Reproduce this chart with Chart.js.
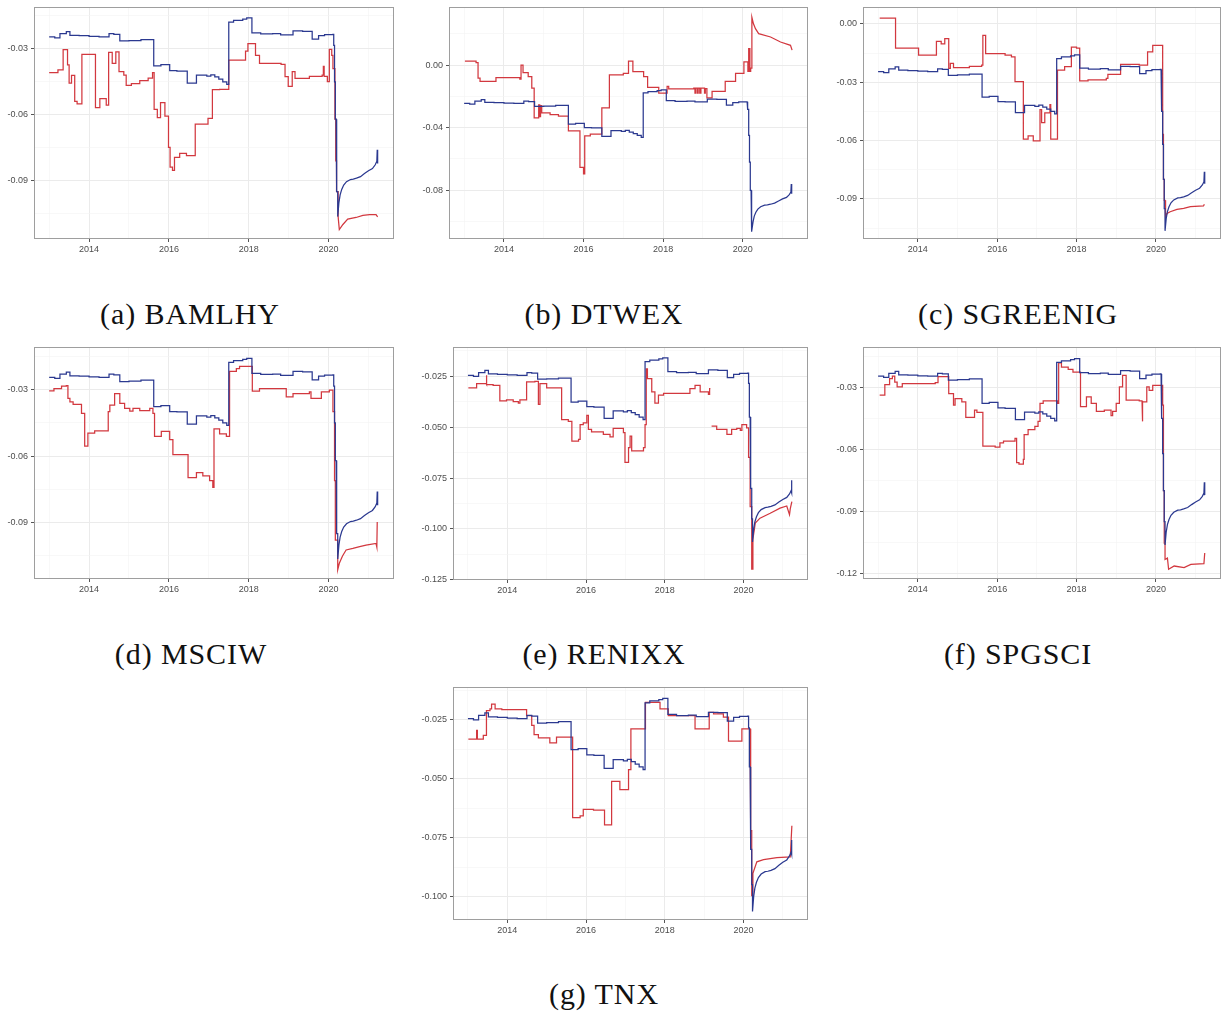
<!DOCTYPE html>
<html>
<head>
<meta charset="utf-8">
<script src="https://cdn.jsdelivr.net/npm/chart.js@4.4.1/dist/chart.umd.min.js"></script>
<style>
  html, body { margin: 0; padding: 0; background: #fff; }
  body { position: relative; width: 1223px; height: 1013px; overflow: hidden; }
  canvas { position: absolute; }
  .cap {
    position: absolute; width: 400px; text-align: center;
    font-family: "Liberation Serif", "Times New Roman", serif;
    font-size: 30px; line-height: 30px; letter-spacing: 0.9px; color: #111;
  }
</style>
</head>
<body>
<script>
// Shared series (same in every panel), as [year, value] steps
const common = [
  [2013.00,-0.0245],[2013.14,-0.0250],[2013.27,-0.0231],[2013.43,-0.0221],[2013.52,-0.0238],
  [2013.75,-0.0240],[2014.00,-0.0243],[2014.25,-0.0245],[2014.50,-0.0231],[2014.62,-0.0234],
  [2014.77,-0.0264],[2015.00,-0.0262],[2015.30,-0.0258],[2015.62,-0.0377],[2015.80,-0.0372],
  [2016.02,-0.0399],[2016.20,-0.0401],[2016.46,-0.0456],[2016.69,-0.0419],[2016.95,-0.0424],
  [2017.05,-0.0418],[2017.15,-0.0428],[2017.25,-0.0438],[2017.35,-0.0450],[2017.45,-0.0462],
  [2017.50,-0.0178],[2017.62,-0.0170],[2017.85,-0.0164],[2017.95,-0.0159],[2018.08,-0.0227],
  [2018.30,-0.0232],[2018.60,-0.0230],[2018.80,-0.0236],[2019.11,-0.0218],[2019.35,-0.0220],
  [2019.59,-0.0256],[2019.75,-0.0240],[2019.90,-0.0235],[2020.11,-0.0234],[2020.13,-0.0284],
  [2020.15,-0.0450],[2020.17,-0.0620],[2020.19,-0.0800],[2020.21,-0.0950],[2020.23,-0.1064],
  [2020.26,-0.1000],[2020.29,-0.0965],[2020.33,-0.0940],[2020.38,-0.0920],[2020.45,-0.0905],
  [2020.55,-0.0895],[2020.62,-0.0893],[2020.70,-0.0889],[2020.80,-0.0882],[2020.90,-0.0868],
  [2021.00,-0.0855],[2021.10,-0.0845],[2021.17,-0.0828],[2021.21,-0.0812],[2021.22,-0.0760],
  [2021.23,-0.0822]
];

// Per-index series
const bamlhy = [
  [2013.00,-0.0408],[2013.22,-0.0396],[2013.35,-0.0303],[2013.46,-0.0373],[2013.50,-0.0456],
  [2013.56,-0.0421],[2013.64,-0.0539],[2013.70,-0.0551],[2013.82,-0.0325],[2014.16,-0.0568],
  [2014.27,-0.0527],[2014.43,-0.0556],[2014.49,-0.0316],[2014.58,-0.0366],[2014.67,-0.0314],
  [2014.75,-0.0404],[2014.87,-0.0420],[2014.93,-0.0466],[2015.06,-0.0458],[2015.27,-0.0445],
  [2015.48,-0.0433],[2015.59,-0.0408],[2015.63,-0.0576],[2015.71,-0.0613],[2015.79,-0.0545],
  [2015.90,-0.0606],[2015.99,-0.0749],[2016.03,-0.0839],[2016.09,-0.0853],[2016.14,-0.0794],
  [2016.27,-0.0776],[2016.44,-0.0786],[2016.66,-0.0643],[2016.98,-0.0616],[2017.09,-0.0486],
  [2017.27,-0.0484],[2017.50,-0.0351],[2017.92,-0.0310],[2017.98,-0.0276],[2018.17,-0.0329],
  [2018.27,-0.0366],[2018.81,-0.0370],[2018.91,-0.0426],[2018.99,-0.0471],[2019.09,-0.0404],
  [2019.16,-0.0434],[2019.52,-0.0425],[2019.84,-0.0420],[2019.87,-0.0380],[2019.89,-0.0425],
  [2019.97,-0.0449],[2020.02,-0.0302],[2020.08,-0.0330],[2020.11,-0.0390],[2020.16,-0.0620],
  [2020.18,-0.0810],[2020.20,-0.0950],[2020.24,-0.1064],[2020.27,-0.1123],[2020.36,-0.1100],
  [2020.48,-0.1075],[2020.69,-0.1068],[2020.86,-0.1058],[2021.03,-0.1055],[2021.19,-0.1055],
  [2021.23,-0.1065]
];

const dtwex = [
  [2013.02,0.0025],[2013.30,0.0015],[2013.35,-0.0084],[2013.40,-0.0105],[2013.80,-0.0080],
  [2014.40,-0.0090],[2014.43,0.0000],[2014.48,-0.0048],[2014.61,-0.0074],[2014.70,-0.0147],
  [2014.76,-0.0337],[2014.86,-0.0320],[2014.88,-0.0255],[2014.90,-0.0330],[2014.92,-0.0260],
  [2014.95,-0.0305],[2015.16,-0.0316],[2015.37,-0.0326],[2015.62,-0.0421],[2015.91,-0.0653],
  [2016.00,-0.0695],[2016.03,-0.0453],[2016.17,-0.0442],[2016.46,-0.0274],[2016.65,-0.0063],
  [2017.00,-0.0053],[2017.13,0.0025],[2017.24,-0.0042],[2017.51,-0.0074],[2017.61,-0.0143],
  [2017.89,-0.0179],[2018.10,-0.0137],[2018.14,-0.0152],[2018.77,-0.0147],[2018.80,-0.0180],
  [2018.82,-0.0147],[2018.86,-0.0180],[2018.88,-0.0147],[2018.92,-0.0180],[2018.95,-0.0147],
  [2019.04,-0.0180],[2019.06,-0.0150],[2019.10,-0.0210],[2019.23,-0.0168],[2019.56,-0.0105],
  [2019.82,-0.0053],[2020.03,0.0020],[2020.13,-0.0040],[2020.15,0.0105],[2020.18,-0.0040],
  [2020.20,-0.0020],[2020.23,0.0305],[2020.27,0.0263],[2020.32,0.0232],[2020.40,0.0200],
  [2020.70,0.0179],[2020.95,0.0147],[2021.20,0.0126],[2021.24,0.0095]
];

const sgreenig = [
  [2013.04,0.0030],[2013.44,-0.0124],[2014.02,-0.0161],[2014.47,-0.0090],[2014.59,-0.0102],
  [2014.68,-0.0076],[2014.78,-0.0229],[2014.82,-0.0203],[2014.90,-0.0225],[2015.30,-0.0218],
  [2015.61,-0.0212],[2015.64,-0.0059],[2015.71,-0.0153],[2016.20,-0.0161],[2016.36,-0.0170],
  [2016.45,-0.0297],[2016.66,-0.0593],[2016.78,-0.0576],[2016.91,-0.0602],[2017.08,-0.0441],
  [2017.12,-0.0508],[2017.20,-0.0458],[2017.33,-0.0415],[2017.35,-0.0593],[2017.52,-0.0237],
  [2017.70,-0.0220],[2017.87,-0.0119],[2018.00,-0.0125],[2018.08,-0.0293],[2018.29,-0.0288],
  [2018.75,-0.0280],[2018.79,-0.0259],[2019.11,-0.0208],[2019.58,-0.0212],[2019.79,-0.0144],
  [2019.92,-0.0110],[2020.17,-0.0568],[2020.19,-0.0800],[2020.21,-0.0907],[2020.23,-0.0958],
  [2020.25,-0.0992],[2020.28,-0.0975],[2020.36,-0.0966],[2020.53,-0.0954],[2020.70,-0.0949],
  [2020.87,-0.0940],[2021.20,-0.0936],[2021.22,-0.0927]
];

const msciw = [
  [2013.00,-0.0306],[2013.12,-0.0296],[2013.31,-0.0284],[2013.43,-0.0282],[2013.47,-0.0340],
  [2013.52,-0.0355],[2013.60,-0.0367],[2013.81,-0.0407],[2013.89,-0.0555],[2013.97,-0.0496],
  [2014.14,-0.0486],[2014.48,-0.0400],[2014.52,-0.0370],[2014.64,-0.0318],[2014.77,-0.0362],
  [2014.89,-0.0385],[2015.02,-0.0397],[2015.10,-0.0385],[2015.27,-0.0395],[2015.52,-0.0385],
  [2015.60,-0.0407],[2015.64,-0.0511],[2015.81,-0.0489],[2016.02,-0.0526],[2016.10,-0.0593],
  [2016.48,-0.0697],[2016.69,-0.0674],[2016.85,-0.0689],[2017.02,-0.0711],[2017.10,-0.0741],
  [2017.13,-0.0477],[2017.27,-0.0500],[2017.44,-0.0511],[2017.52,-0.0218],[2017.69,-0.0206],
  [2017.77,-0.0195],[2018.09,-0.0307],[2018.27,-0.0296],[2018.94,-0.0333],[2019.11,-0.0318],
  [2019.52,-0.0310],[2019.56,-0.0340],[2019.82,-0.0310],[2020.02,-0.0303],[2020.11,-0.0400],
  [2020.15,-0.0711],[2020.17,-0.0979],[2020.23,-0.1112],[2020.27,-0.1083],[2020.35,-0.1050],
  [2020.44,-0.1023],[2020.61,-0.1016],[2020.78,-0.1008],[2020.94,-0.1001],[2021.19,-0.0994],
  [2021.21,-0.1010],[2021.22,-0.0897]
];

const renixx = [
  [2013.01,-0.0306],[2013.22,-0.0285],[2013.46,-0.0245],[2013.48,-0.0290],[2013.64,-0.0294],
  [2013.81,-0.0371],[2013.98,-0.0366],[2014.15,-0.0374],[2014.28,-0.0382],[2014.32,-0.0366],
  [2014.49,-0.0277],[2014.70,-0.0274],[2014.79,-0.0387],[2014.83,-0.0285],[2015.00,-0.0306],
  [2015.38,-0.0463],[2015.55,-0.0471],[2015.64,-0.0568],[2015.81,-0.0560],[2015.85,-0.0487],
  [2015.93,-0.0479],[2016.02,-0.0442],[2016.06,-0.0511],[2016.14,-0.0523],[2016.44,-0.0535],
  [2016.61,-0.0547],[2016.69,-0.0506],[2016.95,-0.0527],[2016.99,-0.0673],[2017.08,-0.0600],
  [2017.12,-0.0544],[2017.16,-0.0616],[2017.46,-0.0600],[2017.50,-0.0487],[2017.53,-0.0213],
  [2017.56,-0.0261],[2017.67,-0.0326],[2017.75,-0.0382],[2017.84,-0.0342],[2017.97,-0.0334],
  [2018.64,-0.0310],[2018.77,-0.0294],[2018.90,-0.0326],[2019.11,-0.0339],[2019.14,-0.0310],
  [2019.16,-0.0310],[2019.17,null],[2019.19,-0.0495],[2019.32,-0.0511],[2019.58,-0.0535],
  [2019.70,-0.0511],[2019.83,-0.0506],[2019.92,-0.0516],[2019.96,-0.0487],[2020.08,-0.0503],
  [2020.13,-0.0648],[2020.17,-0.0890],[2020.21,-0.1197],[2020.24,-0.1050],[2020.30,-0.0971],
  [2020.42,-0.0947],[2020.68,-0.0923],[2020.93,-0.0898],[2021.10,-0.0887],[2021.17,-0.0930],
  [2021.19,-0.0900],[2021.23,-0.0866]
];

const spgsci = [
  [2013.04,-0.0337],[2013.17,-0.0286],[2013.29,-0.0257],[2013.36,-0.0244],[2013.42,-0.0273],
  [2013.48,-0.0297],[2013.61,-0.0281],[2014.44,-0.0276],[2014.51,-0.0247],[2014.78,-0.0329],
  [2014.90,-0.0385],[2014.94,-0.0353],[2015.11,-0.0369],[2015.21,-0.0445],[2015.43,-0.0409],
  [2015.49,-0.0420],[2015.64,-0.0584],[2015.95,-0.0589],[2016.07,-0.0568],[2016.16,-0.0560],
  [2016.45,-0.0547],[2016.49,-0.0664],[2016.55,-0.0672],[2016.66,-0.0648],[2016.68,-0.0528],
  [2016.78,-0.0504],[2016.95,-0.0488],[2017.03,-0.0464],[2017.08,-0.0377],[2017.16,-0.0365],
  [2017.52,-0.0377],[2017.55,-0.0180],[2017.62,-0.0201],[2017.79,-0.0212],[2017.91,-0.0225],
  [2018.10,-0.0393],[2018.25,-0.0345],[2018.37,-0.0377],[2018.50,-0.0416],[2018.70,-0.0409],
  [2018.87,-0.0436],[2018.91,-0.0416],[2019.00,-0.0377],[2019.08,-0.0297],[2019.16,-0.0241],
  [2019.25,-0.0361],[2019.58,-0.0365],[2019.65,-0.0464],[2019.67,-0.0369],[2019.77,-0.0297],
  [2019.83,-0.0313],[2019.92,-0.0289],[2020.14,-0.0289],[2020.17,-0.0385],[2020.19,-0.0800],
  [2020.21,-0.1055],[2020.23,-0.1134],[2020.29,-0.1127],[2020.32,-0.1182],[2020.46,-0.1166],
  [2020.71,-0.1174],[2020.88,-0.1158],[2021.21,-0.1154],[2021.23,-0.1103]
];

const tnx = [
  [2013.01,-0.0332],[2013.22,-0.0295],[2013.24,-0.0332],[2013.39,-0.0316],[2013.47,-0.0211],
  [2013.56,-0.0204],[2013.60,-0.0183],[2013.69,-0.0204],[2013.86,-0.0207],[2014.49,-0.0232],
  [2014.62,-0.0274],[2014.68,-0.0313],[2014.79,-0.0327],[2015.08,-0.0348],[2015.25,-0.0323],
  [2015.66,-0.0665],[2015.85,-0.0658],[2015.93,-0.0630],[2016.19,-0.0634],[2016.47,-0.0696],
  [2016.65,-0.0511],[2016.86,-0.0546],[2017.08,-0.0462],[2017.14,-0.0288],[2017.51,-0.0176],
  [2017.88,-0.0204],[2018.09,-0.0232],[2018.77,-0.0288],[2019.13,-0.0218],[2019.24,-0.0225],
  [2019.49,-0.0239],[2019.62,-0.0341],[2019.96,-0.0288],[2020.17,-0.0413],[2020.19,-0.0721],
  [2020.21,-0.0997],[2020.24,-0.0902],[2020.34,-0.0853],[2020.51,-0.0844],[2020.85,-0.0835],
  [2021.19,-0.0832],[2021.23,-0.0700]
];

// Axis ticks
const xTicks = [2013, 2014, 2015, 2016, 2017, 2018, 2019, 2020, 2021];
const xLabelled = [2014, 2016, 2018, 2020];
const yTicksA = { major: [-0.09, -0.06, -0.03], minor: [-0.105, -0.075, -0.045, -0.015] };
const yTicksB = { major: [-0.08, -0.04, 0.00], minor: [-0.10, -0.06, -0.02, 0.02] };
const yTicksC = { major: [-0.09, -0.06, -0.03, 0.00], minor: [-0.105, -0.075, -0.045, -0.015] };
const yTicksE = { major: [-0.125, -0.100, -0.075, -0.050, -0.025], minor: [-0.1125, -0.0875, -0.0625, -0.0375, -0.0125] };
const yTicksF = { major: [-0.12, -0.09, -0.06, -0.03], minor: [-0.105, -0.075, -0.045, -0.015] };
const yTicksG = { major: [-0.100, -0.075, -0.050, -0.025], minor: [-0.0875, -0.0625, -0.0375, -0.0125] };

// Panel placement (plot box in page pixels) and axis ranges
const panels = [
  { cap: '(a) BAMLHY',   series: bamlhy,   box: [34, 5, 360, 234],   y: [-0.1166, -0.0111], yt: yTicksA, dec: 2, capAt: [190, 314] },
  { cap: '(b) DTWEX',    series: dtwex,    box: [449, 5, 359, 234],  y: [-0.1111, 0.0368],  yt: yTicksB, dec: 2, capAt: [604, 314] },
  { cap: '(c) SGREENIG', series: sgreenig, box: [863, 5, 358, 234],  y: [-0.1106, 0.0085],  yt: yTicksC, dec: 2, capAt: [1018, 314] },
  { cap: '(d) MSCIW',    series: msciw,    box: [34, 345, 360, 234], y: [-0.1154, -0.0110], yt: yTicksA, dec: 2, capAt: [191, 654] },
  { cap: '(e) RENIXX',   series: renixx,   box: [453, 345, 355, 235],y: [-0.1251, -0.01075],yt: yTicksE, dec: 3, capAt: [604, 654] },
  { cap: '(f) SPGSCI',   series: spgsci,   box: [863, 345, 358, 234],y: [-0.1229, -0.0105], yt: yTicksF, dec: 2, capAt: [1018, 654] },
  { cap: '(g) TNX',      series: tnx,      box: [453, 685, 355, 235],y: [-0.1100, -0.01124],yt: yTicksG, dec: 3, capAt: [604, 994] }
];

const X_RANGE = [2012.62, 2021.64];
// after the 2020 trough the daily series move continuously rather than in steps
const CURVE_FROM = 2020.255;
const AXIS_W = 34, AXIS_H = 20, PAD_T = 6, PAD_R = 4;
const BLUE = '#2b3990', RED = '#d2383f';
const TICK_FONT = { family: '"Liberation Sans", Arial, sans-serif', size: 9 };

const isIn = (list, v) => list.some(m => Math.abs(m - v) < 1e-9);

// Step path: each value holds until the next date; continuous after CURVE_FROM
function toPath(arr) {
  const out = [];
  arr.forEach(([x, y], i) => {
    if (i > 0 && x <= CURVE_FROM) {
      const prev = arr[i - 1][1];
      if (prev !== null && y !== null) out.push({ x, y: prev });
    }
    out.push({ x, y });
  });
  return out;
}

// Full rectangle around the plotting region
const frame = {
  id: 'frame',
  afterDraw(chart) {
    const { ctx, chartArea: a } = chart;
    ctx.save();
    ctx.strokeStyle = '#9e9e9e';
    ctx.lineWidth = 1;
    ctx.strokeRect(Math.round(a.left) + 0.5, Math.round(a.top) + 0.5,
                   Math.round(a.width) - 1, Math.round(a.height) - 1);
    ctx.restore();
  }
};

panels.forEach(p => {
  const [L, T, W, H] = p.box;
  const cv = document.createElement('canvas');
  cv.width = AXIS_W + W + PAD_R;
  cv.height = PAD_T + H + AXIS_H;
  cv.style.left = (L - AXIS_W) + 'px';
  cv.style.top = (T - PAD_T) + 'px';
  document.body.appendChild(cv);

  const yAll = [...p.yt.major, ...p.yt.minor].sort((a, b) => a - b);

  new Chart(cv, {
    type: 'line',
    data: {
      datasets: [
        { data: toPath(common), borderColor: BLUE, borderWidth: 1.25, pointRadius: 0 },
        { data: toPath(p.series), borderColor: RED, borderWidth: 1.25, pointRadius: 0, spanGaps: false }
      ]
    },
    options: {
      responsive: false,
      animation: false,
      devicePixelRatio: 1,
      layout: { padding: { left: 0, right: PAD_R, top: PAD_T, bottom: 0 } },
      plugins: { legend: { display: false }, tooltip: { enabled: false }, title: { display: false } },
      elements: { line: { tension: 0 } },
      scales: {
        x: {
          type: 'linear', position: 'bottom', min: X_RANGE[0], max: X_RANGE[1],
          afterBuildTicks: ax => { ax.ticks = xTicks.map(value => ({ value })); },
          afterFit: ax => { ax.height = AXIS_H; },
          border: { display: false },
          grid: {
            color: c => isIn(xLabelled, c.tick.value) ? '#ebebeb' : '#f4f4f4',
            lineWidth: c => isIn(xLabelled, c.tick.value) ? 1 : 0.6,
            tickColor: c => isIn(xLabelled, c.tick.value) ? '#555' : 'rgba(0,0,0,0)',
            tickLength: 3, tickWidth: 1
          },
          ticks: {
            autoSkip: false, maxRotation: 0, padding: 2, color: '#4d4d4d', font: TICK_FONT,
            callback: v => isIn(xLabelled, v) ? String(v) : ''
          }
        },
        y: {
          type: 'linear', min: p.y[0], max: p.y[1],
          afterBuildTicks: ax => { ax.ticks = yAll.map(value => ({ value })); },
          afterFit: ax => { ax.width = AXIS_W; },
          border: { display: false },
          grid: {
            color: c => isIn(p.yt.major, c.tick.value) ? '#ebebeb' : '#f4f4f4',
            lineWidth: c => isIn(p.yt.major, c.tick.value) ? 1 : 0.6,
            tickColor: c => isIn(p.yt.major, c.tick.value) ? '#555' : 'rgba(0,0,0,0)',
            tickLength: 3, tickWidth: 1
          },
          ticks: {
            autoSkip: false, padding: 3, color: '#4d4d4d', font: TICK_FONT,
            callback: v => isIn(p.yt.major, v) ? (Math.abs(v) < 1e-12 ? 0 : v).toFixed(p.dec) : ''
          }
        }
      }
    },
    plugins: [frame]
  });

  const cap = document.createElement('div');
  cap.className = 'cap';
  cap.textContent = p.cap;
  cap.style.left = (p.capAt[0] - 200) + 'px';
  cap.style.top = (p.capAt[1] - 15) + 'px';
  document.body.appendChild(cap);
});
</script>
</body>
</html>
